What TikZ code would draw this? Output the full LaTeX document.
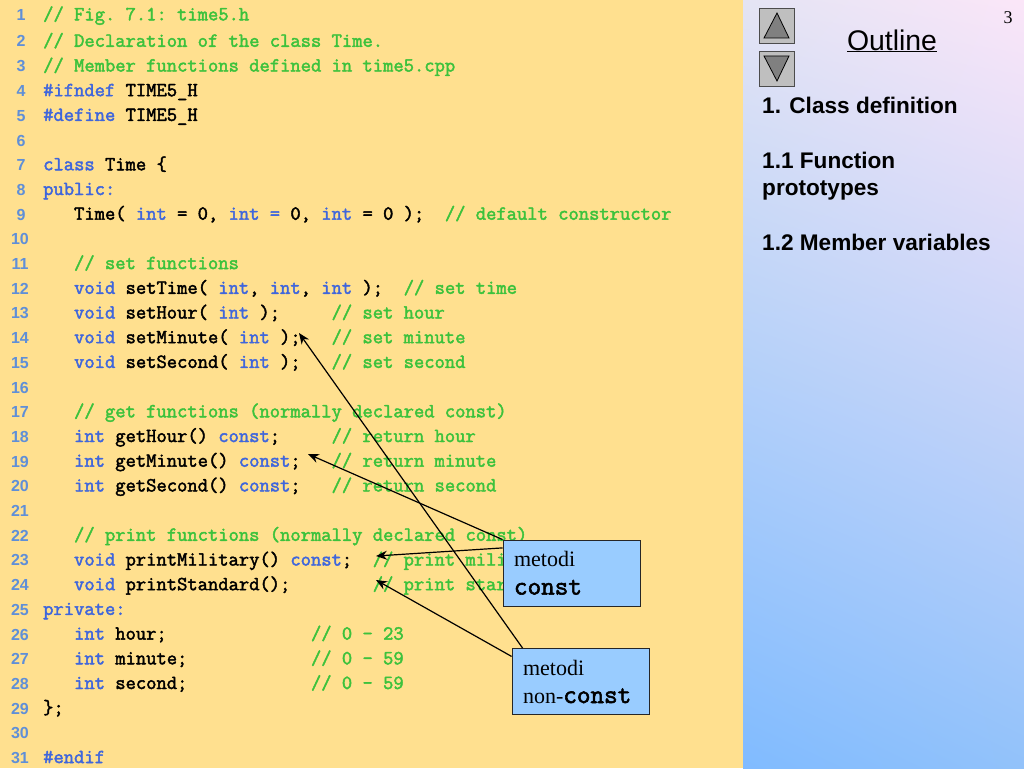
\documentclass[tikz,border=0pt]{standalone}
\usepackage{fontspec}
\setmainfont{Liberation Serif}
\newfontfamily\headfont{Liberation Sans}
\newfontfamily\codefont[FakeBold=2.2]{Latin Modern Mono}
\usetikzlibrary{arrows.meta, positioning, shadings}
\definecolor{pagebg}{HTML}{FFE08F}
\definecolor{cmtgreen}{HTML}{3CC23C}
\definecolor{kwblue}{HTML}{3F66DC}
\definecolor{numblue}{HTML}{5F8FD8}
\definecolor{notefill}{HTML}{99CCFF}
\definecolor{panelul}{HTML}{E4E4F4}
\definecolor{panelur}{HTML}{FBE6F8}
\definecolor{panelll}{HTML}{80BBFF}
\definecolor{panellr}{HTML}{92C2FA}
\newcommand{\cmt}[1]{\textcolor{cmtgreen}{#1}}
\newcommand{\kw}[1]{\textcolor{kwblue}{#1}}
\newcommand{\notecode}[1]{{\codefont\fontsize{26.4}{28}\selectfont #1}}
\tikzset{
    lineno/.style={anchor=base, inner sep=0pt, text=numblue, font=\headfont\bfseries\fontsize{16}{18}\selectfont},
    codeline/.style={anchor=base west, inner sep=0pt, yshift=-0.3pt, font=\codefont\fontsize{20}{20}\selectfont},
    notebox/.style={rectangle, draw=black!85, line width=0.9pt, fill=notefill, minimum width=137pt, minimum height=66pt, inner sep=0pt, text width=115pt, align=left, font=\fontsize{22}{28}\selectfont},
    pointer/.style={line width=1.2pt, -{Stealth[length=11pt,width=9pt]}},
    navbutton/.style={rectangle, draw=black!70, line width=0.8pt, fill=black!25, minimum size=35pt},
    navtri/.style={draw=black, line width=0.8pt, fill=black!50},
    outlineitem/.style={anchor=base west, inner sep=0pt, font=\headfont\bfseries\fontsize{22.6}{27}\selectfont}
}
\begin{document}
\begin{tikzpicture}[x=1pt, y=-1pt]
    \useasboundingbox (0,0) rectangle (1024,768);
    % Background
    \fill[pagebg] (0,0) rectangle (743,768);
    \shade[upper left=panelul, upper right=panelur, lower left=panelll, lower right=panellr] (743,0) rectangle (1024,768);
    % Line numbers
    \node (num1) [lineno] at (21,20.5) {1};
    \node (num2) [lineno] at (21,47) {2};
    \node (num3) [lineno] at (21,71.9) {3};
    \node (num4) [lineno] at (21,96.6) {4};
    \node (num5) [lineno] at (21,121.3) {5};
    \node (num6) [lineno] at (21,146) {6};
    \node (num7) [lineno] at (21,170.7) {7};
    \node (num8) [lineno] at (21,195.4) {8};
    \node (num9) [lineno] at (21,220.1) {9};
    \node (num10) [lineno] at (20,244.8) {10};
    \node (num11) [lineno] at (20,269.5) {11};
    \node (num12) [lineno] at (20,294.2) {12};
    \node (num13) [lineno] at (20,318.9) {13};
    \node (num14) [lineno] at (20,343.6) {14};
    \node (num15) [lineno] at (20,368.3) {15};
    \node (num16) [lineno] at (20,393) {16};
    \node (num17) [lineno] at (20,417.7) {17};
    \node (num18) [lineno] at (20,442.4) {18};
    \node (num19) [lineno] at (20,467.1) {19};
    \node (num20) [lineno] at (20,491.8) {20};
    \node (num21) [lineno] at (20,516.5) {21};
    \node (num22) [lineno] at (20,541.2) {22};
    \node (num23) [lineno] at (20,565.9) {23};
    \node (num24) [lineno] at (20,590.6) {24};
    \node (num25) [lineno] at (20,615.3) {25};
    \node (num26) [lineno] at (20,640) {26};
    \node (num27) [lineno] at (20,664.7) {27};
    \node (num28) [lineno] at (20,689.4) {28};
    \node (num29) [lineno] at (20,714.1) {29};
    \node (num30) [lineno] at (20,738.8) {30};
    \node (num31) [lineno] at (20,763.5) {31};
    % Code
    \node (code1) [codeline] at (43,20) {\cmt{//~Fig.~7.1:~time5.h}};
    \node (code2) [codeline] at (43,46.5) {\cmt{//~Declaration~of~the~class~Time.}};
    \node (code3) [codeline] at (43,71.2) {\cmt{//~Member~functions~defined~in~time5.cpp}};
    \node (code4) [codeline] at (43,95.9) {\kw{\#ifndef}~TIME5\_H};
    \node (code5) [codeline] at (43,120.6) {\kw{\#define}~TIME5\_H};
    \node (code7) [codeline] at (43,170) {\kw{class}~Time~\{};
    \node (code8) [codeline] at (43,194.7) {\kw{public:}};
    \node (code9) [codeline] at (43,219.4) {~~~Time(~\kw{int}~=~0,~\kw{int~=}~0,~\kw{int}~=~0~);~~\cmt{//~default~constructor}};
    \node (code11) [codeline] at (43,268.8) {~~~\cmt{//~set~functions}};
    \node (code12) [codeline] at (43,293.5) {~~~\kw{void}~setTime(~\kw{int},~\kw{int},~\kw{int}~);~~\cmt{//~set~time}};
    \node (code13) [codeline] at (43,318.2) {~~~\kw{void}~setHour(~\kw{int}~);~~~~~\cmt{//~set~hour}};
    \node (code14) [codeline] at (43,342.9) {~~~\kw{void}~setMinute(~\kw{int}~);~~~\cmt{//~set~minute}};
    \node (code15) [codeline] at (43,367.6) {~~~\kw{void}~setSecond(~\kw{int}~);~~~\cmt{//~set~second}};
    \node (code17) [codeline] at (43,417) {~~~\cmt{//~get~functions~(normally~declared~const)}};
    \node (code18) [codeline] at (43,441.7) {~~~\kw{int}~getHour()~\kw{const};~~~~~\cmt{//~return~hour}};
    \node (code19) [codeline] at (43,466.4) {~~~\kw{int}~getMinute()~\kw{const};~~~\cmt{//~return~minute}};
    \node (code20) [codeline] at (43,491.1) {~~~\kw{int}~getSecond()~\kw{const};~~~\cmt{//~return~second}};
    \node (code22) [codeline] at (43,540.5) {~~~\cmt{//~print~functions~(normally~declared~const)}};
    \node (code23) [codeline] at (43,565.2) {~~~\kw{void}~printMilitary()~\kw{const};~~\cmt{//~print~mili}};
    \node (code24) [codeline] at (43,589.9) {~~~\kw{void}~printStandard();~~~~~~~~\cmt{//~print~star}};
    \node (code25) [codeline] at (43,614.6) {\kw{private:}};
    \node (code26) [codeline] at (43,639.3) {~~~\kw{int}~hour;~~~~~~~~~~~~~~\cmt{//~0~-~23}};
    \node (code27) [codeline] at (43,664) {~~~\kw{int}~minute;~~~~~~~~~~~~\cmt{//~0~-~59}};
    \node (code28) [codeline] at (43,688.7) {~~~\kw{int}~second;~~~~~~~~~~~~\cmt{//~0~-~59}};
    \node (code29) [codeline] at (43,713.4) {\};};
    \node (code31) [codeline] at (43,762.8) {\kw{\#endif}};
    % Note boxes
    \node (constbox) [notebox] at (571.5,573) {metodi\\\notecode{const}};
    \node (nonconstbox) [notebox] at (580.5,681.5) {metodi\\non-\notecode{const}};
    % Arrow ends
    \coordinate (getEnd) at (308,454);
    \coordinate (militaryEnd) at (376,556);
    \coordinate (standardEnd) at (376,580);
    \coordinate (setEnd) at (299,333);
    % Arrows
    \draw [pointer] (constbox.north west) -- (getEnd);
    \draw [pointer] (constbox.160) -- (militaryEnd);
    \draw [pointer] (nonconstbox.160) -- (standardEnd);
    \draw [pointer] (nonconstbox.150.6) -- (setEnd);
    % Outline panel
    \node (upbutton) [navbutton] at (776.5,25.5) {};
    \node (downbutton) [navbutton, below=8pt of upbutton] {};
    \draw [navtri] (777,13) -- (789,38) -- (764,38) -- cycle;
    \draw [navtri] (777,81) -- (789,56) -- (764,56) -- cycle;
    \node (outline) [anchor=base, inner sep=0pt, font=\headfont\fontsize{28.4}{32}\selectfont] at (892,50) {\underline{Outline}};
    \node (pageno) [anchor=base, inner sep=0pt, font=\fontsize{18}{20}\selectfont] at (1008,24) {3};
    \node (item1) [outlineitem] at (762,113) {1. Class definition};
    \node (item2) [outlineitem] at (762,168) {1.1 Function};
    \node (item2b) [outlineitem] at (762,195) {prototypes};
    \node (item3) [outlineitem] at (762,250) {1.2 Member variables};
\end{tikzpicture}
\end{document}
